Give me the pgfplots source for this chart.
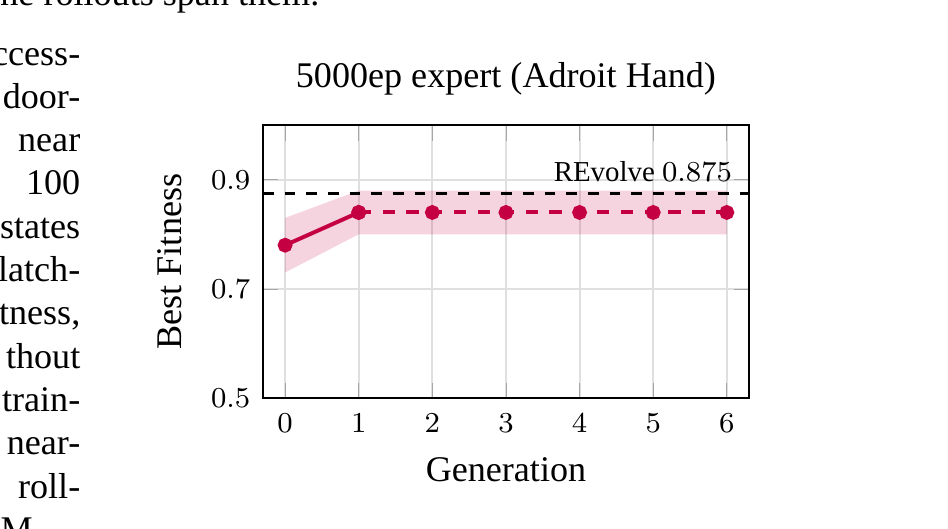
\documentclass[border=0pt]{standalone}
\usepackage{fontspec}
\setmainfont{Liberation Serif}
\usepackage{pgfplots}
\pgfplotsset{compat=1.18}
\definecolor{crim}{RGB}{196,0,67}

\begin{document}
\begin{tikzpicture}[x=0.277pt,y=0.277pt]
\useasboundingbox (0,0) rectangle (948,528);
\clip (0,0) rectangle (948,528);
% page text around the figure (y counted from the bottom)
\node[anchor=base east,inner sep=0pt] at (320,523) {the rollouts span them.};
\foreach \w [count=\i from 0] in {ccess-, door-, near, 100, states, latch-, {tness,}, thout, train-, near-, roll-}
  \node[anchor=base east,inner sep=0pt] at (81,463-43.3*\i) {\w};
\node[anchor=base west,inner sep=0pt] at (0,-13) {M};

\begin{axis}[
  at={(72.85pt,36.0pt)}, anchor=south west,
  scale only axis, width=134.6pt, height=75.6pt,
  xmin=-0.3, xmax=6.3, ymin=0.5, ymax=1.0,
  xtick={0,...,6}, ytick={0.5,0.7,0.9},
  grid=major, major grid style={gray!25, line width=0.6pt},
  tick style={gray!70},
  tick label style={font=\fontsize{8.5}{10}\selectfont},
  xticklabel style={yshift=-0.8pt},
  title={5000ep expert (Adroit Hand)},
  title style={at={(axis description cs:0.5,1.091)}, anchor=center},
  xlabel={Generation},
  xlabel style={at={(axis description cs:0.5,-0.264)}, anchor=center},
  ylabel={Best Fitness},
  ylabel style={at={(axis description cs:-0.191,0.5)}, anchor=center},
]
\addplot[fill=crim, fill opacity=0.17, draw=none, forget plot] coordinates {
  (0,0.73) (1,0.80) (2,0.80) (3,0.80) (4,0.80) (5,0.80) (6,0.80)
  (6,0.88) (5,0.88) (4,0.88) (3,0.88) (2,0.88) (1,0.88) (0,0.83)};
\addplot[black, dashed, line width=0.9pt] coordinates {(-0.3,0.875) (6.3,0.875)};
\addplot[crim, line width=1.1pt, mark=*, mark size=1.5pt] coordinates {(0,0.78) (1,0.84)};
\addplot[crim, line width=1.1pt, dash pattern=on 3.4pt off 3.2pt, mark=*, mark size=1.5pt, mark options={solid}]
  coordinates {(1,0.84) (2,0.84) (3,0.84) (4,0.84) (5,0.84) (6,0.84)};
\node[anchor=base east, inner sep=0pt, font=\footnotesize] at (axis cs:6.08,0.896) {REvolve $0.875$};
\end{axis}
\end{tikzpicture}
\end{document}
